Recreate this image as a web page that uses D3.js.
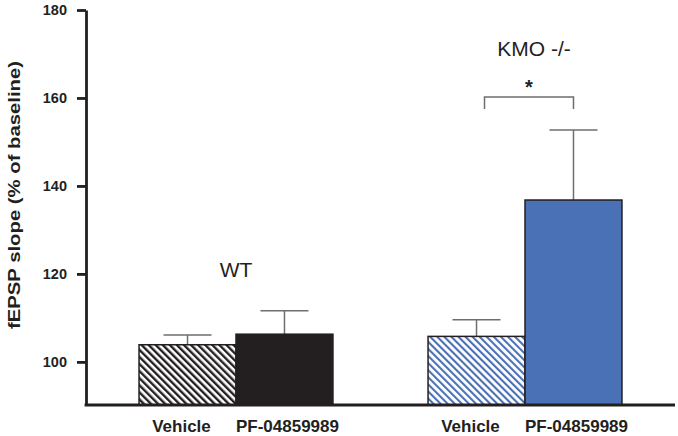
<!DOCTYPE html>
<html>
<head>
<meta charset="utf-8">
<script src="https://cdn.jsdelivr.net/npm/d3@7"></script>
<style>
  html, body { margin: 0; padding: 0; background: #fff; }
  svg { display: block; }
</style>
</head>
<body>
<svg id="chart" width="678" height="436"></svg>
<script>
// ---- data ----
const groups = ["WT", "KMO -/-"];
const conditions = ["Vehicle", "PF-04859989"];
const meanWT = [103.9, 106.3];
const semWT = [2.2, 5.3];
const meanKMO = [105.8, 136.8];
const semKMO = [3.8, 15.9];
const yTicks = [100, 120, 140, 160, 180];
const yLabel = "fEPSP slope (% of baseline)";
const sigMark = "*";

const rows = [];
groups.forEach((g, gi) => {
  const means = gi === 0 ? meanWT : meanKMO;
  const sems = gi === 0 ? semWT : semKMO;
  conditions.forEach((c, ci) => rows.push({ group: g, cond: c, mean: means[ci], sem: sems[ci], gi, ci }));
});

// ---- layout ----
const svg = d3.select("#chart");
const ink = "#231f20";
const blue = "#4a70b6";
const errCol = "#6d6e71";

const y = d3.scaleLinear().domain([90.2, 180]).range([405, 10]);
const xGroup = d3.scaleBand().domain(groups).range([86, 675]).paddingInner(0.329).paddingOuter(0.1835);
const xCond = d3.scaleBand().domain(conditions).range([0, xGroup.bandwidth()]).padding(0);

// patterns
const defs = svg.append("defs");
function hatch(id, color, w) {
  const p = defs.append("pattern").attr("id", id).attr("patternUnits", "userSpaceOnUse")
    .attr("width", 5).attr("height", 5).attr("patternTransform", "rotate(-45)");
  p.append("rect").attr("width", 5).attr("height", 5).attr("fill", "#fff");
  p.append("rect").attr("x", 0).attr("y", 0).attr("width", w).attr("height", 5).attr("fill", color);
}
hatch("hatchBlack", ink, 2.4);
hatch("hatchBlue", blue, 2.1);

function fillFor(d) {
  if (d.gi === 0) return d.ci === 0 ? "url(#hatchBlack)" : ink;
  return d.ci === 0 ? "url(#hatchBlue)" : blue;
}
const bx = d => xGroup(d.group) + xCond(d.cond);
const cx = d => bx(d) + xCond.bandwidth() / 2;

// error bars (behind bars)
const err = svg.append("g").attr("stroke", errCol).attr("stroke-width", 1.5).attr("fill", "none");
rows.forEach(d => {
  err.append("line").attr("x1", cx(d)).attr("x2", cx(d)).attr("y1", y(d.mean)).attr("y2", y(d.mean + d.sem));
  err.append("line").attr("x1", cx(d) - 24).attr("x2", cx(d) + 24).attr("y1", y(d.mean + d.sem)).attr("y2", y(d.mean + d.sem));
});

// bars
svg.append("g").selectAll("rect").data(rows).join("rect")
  .attr("x", bx).attr("width", xCond.bandwidth())
  .attr("y", d => y(d.mean)).attr("height", d => y.range()[0] - y(d.mean))
  .attr("fill", fillFor).attr("stroke", ink).attr("stroke-width", 1.5);

// y axis
const yAxis = svg.append("g").attr("transform", "translate(86,0)")
  .call(d3.axisLeft(y).tickValues(yTicks).tickSize(9).tickSizeOuter(0).tickPadding(10));
yAxis.select(".domain").attr("stroke", ink).attr("stroke-width", 2.8);
yAxis.selectAll(".tick line").attr("stroke", ink).attr("stroke-width", 2.8);
yAxis.selectAll(".tick text").attr("fill", ink)
  .style("font-family", "'Liberation Sans', Arial, sans-serif").style("font-size", "14.5px").style("font-weight", "bold");

// x axis baseline
const xr = xGroup.range();
svg.append("line").attr("x1", xr[0] - 1.4).attr("x2", xr[1]).attr("y1", y.range()[0]).attr("y2", y.range()[0])
  .attr("stroke", ink).attr("stroke-width", 2.8);

// x labels
svg.append("g").selectAll("text").data(rows).join("text")
  .attr("x", cx).attr("dx", d => d.ci === 0 ? -6 : 3).attr("y", 432).attr("text-anchor", "middle")
  .attr("fill", ink)
  .style("font-family", "'Liberation Sans', Arial, sans-serif").style("font-size", "17px").style("font-weight", "bold")
  .text(d => d.cond);

// y label
svg.append("text").attr("transform", "translate(20,195) rotate(-90)").attr("text-anchor", "middle")
  .attr("fill", ink)
  .attr("textLength", 268).attr("lengthAdjust", "spacingAndGlyphs")
  .style("font-family", "'Liberation Sans', Arial, sans-serif").style("font-size", "17px").style("font-weight", "bold")
  .text(yLabel);

// group labels
svg.append("text").attr("x", xGroup("WT") + xCond.bandwidth()).attr("y", 277).attr("text-anchor", "middle")
  .attr("fill", ink).style("font-family", "'Liberation Sans', Arial, sans-serif").style("font-size", "21px")
  .text(groups[0]);
svg.append("text").attr("x", xGroup("KMO -/-") + xCond.bandwidth() + 9).attr("y", 56).attr("text-anchor", "middle")
  .attr("fill", ink).style("font-family", "'Liberation Sans', Arial, sans-serif").style("font-size", "21px")
  .text(groups[1]);

// significance bracket
const kmoRows = rows.filter(d => d.gi === 1);
const bl = cx(kmoRows[0]) + 8, br = cx(kmoRows[1]);
svg.append("path").attr("d", `M${bl},109 V97 H${br} V109`).attr("fill", "none")
  .attr("stroke", errCol).attr("stroke-width", 1.5);
svg.append("text").attr("x", (bl + br) / 2).attr("y", 94).attr("text-anchor", "middle")
  .attr("fill", ink).style("font-family", "'Liberation Sans', Arial, sans-serif").style("font-size", "20px").style("font-weight", "bold")
  .text(sigMark);
</script>
</body>
</html>
